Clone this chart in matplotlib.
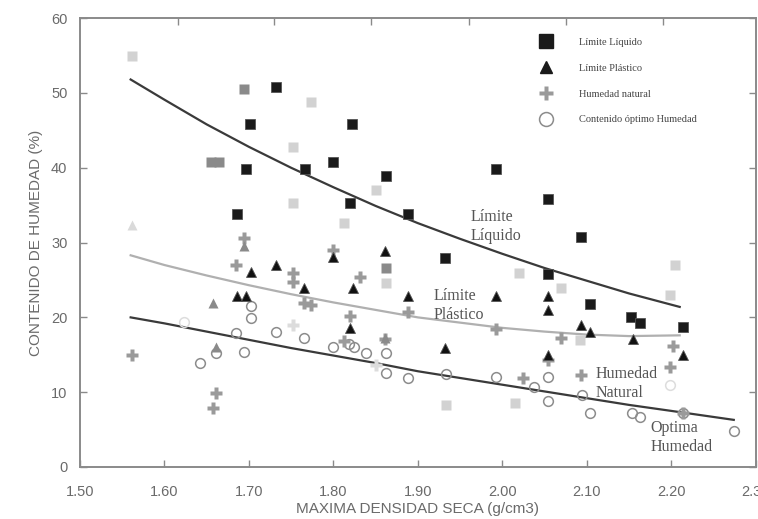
import matplotlib
matplotlib.use('Agg')
import matplotlib.pyplot as plt
from matplotlib.lines import Line2D

# ---- data ----
# Limite liquido (squares)
ll_dark_x = [1.686, 1.696, 1.701, 1.732, 1.766, 1.800, 1.822, 1.820, 1.862, 1.888,
             1.932, 1.993, 2.054, 2.054, 2.093, 2.104, 2.152, 2.163, 2.214]
ll_dark_y = [33.8, 39.8, 45.9, 50.8, 39.8, 40.8, 45.9, 35.3, 38.9, 33.8,
             27.9, 39.8, 35.8, 25.8, 30.7, 21.8, 20.0, 19.3, 18.7]
ll_mid_x = [1.655, 1.665, 1.694, 1.862]
ll_mid_y = [40.8, 40.8, 50.5, 26.6]
ll_light_x = [1.562, 1.752, 1.774, 1.752, 1.851, 1.812, 1.862, 2.020, 2.069, 2.205,
              2.199, 2.092, 1.933, 2.015]
ll_light_y = [54.9, 42.8, 48.8, 35.3, 37.0, 32.6, 24.6, 26.0, 23.9, 27.0,
              23.0, 17.0, 8.3, 8.6]

# Limite plastico (triangles)
lp_dark_x = [1.686, 1.697, 1.702, 1.732, 1.765, 1.800, 1.823, 1.820, 1.861, 1.888,
             1.932, 1.993, 2.054, 2.054, 2.054, 2.093, 2.104, 2.155, 2.214]
lp_dark_y = [22.9, 22.9, 26.1, 27.0, 23.9, 28.1, 23.9, 18.6, 28.9, 22.9,
             15.9, 22.8, 22.9, 21.0, 15.0, 19.0, 18.1, 17.1, 15.0]
lp_mid_x = [1.658, 1.661, 1.861, 1.694]
lp_mid_y = [21.9, 16.0, 17.2, 29.5]
lp_light_x = [1.562]
lp_light_y = [32.4]

# Humedad natural (plus)
hn_x = [1.562, 1.658, 1.661, 1.685, 1.694, 1.752, 1.752, 1.765, 1.773, 1.800,
        1.832, 1.820, 1.813, 1.861, 1.888, 1.993, 2.024, 2.054, 2.069, 2.093,
        2.202, 2.198, 2.214]
hn_y = [15.0, 7.9, 9.9, 27.0, 30.6, 26.0, 24.7, 21.9, 21.7, 29.0,
        25.4, 20.2, 16.8, 17.1, 20.7, 18.4, 11.9, 14.3, 17.3, 12.3,
        16.2, 13.4, 7.2]
hn_light_x = [1.752, 1.851]
hn_light_y = [19.0, 13.6]

# Contenido optimo de humedad (open circles)
oh_x = [1.642, 1.661, 1.685, 1.694, 1.702, 1.702, 1.732, 1.765, 1.800, 1.818,
        1.825, 1.839, 1.862, 1.862, 1.888, 1.933, 1.993, 2.038, 2.054, 2.054,
        2.094, 2.104, 2.153, 2.163, 2.214, 2.274]
oh_y = [13.9, 15.2, 17.9, 15.4, 21.5, 19.9, 18.0, 17.2, 16.0, 16.4,
        16.1, 15.2, 15.2, 12.6, 11.9, 12.4, 12.0, 10.7, 12.0, 8.8,
        9.6, 7.2, 7.2, 6.7, 7.2, 4.8]
oh_light_x = [1.623, 2.199]
oh_light_y = [19.4, 11.0]

# trend lines
ll_fit_x = [1.56, 1.60, 1.65, 1.70, 1.75, 1.80, 1.85, 1.90, 1.95, 2.00, 2.05, 2.10, 2.15, 2.21]
ll_fit_y = [51.8, 49.1, 45.8, 42.8, 40.0, 37.4, 34.9, 32.6, 30.5, 28.5, 26.6, 24.9, 23.2, 21.4]
lp_fit_x = [1.56, 1.60, 1.65, 1.70, 1.75, 1.80, 1.85, 1.90, 1.95, 2.00, 2.05, 2.10, 2.15, 2.21]
lp_fit_y = [28.3, 27.0, 25.6, 24.3, 23.1, 22.0, 21.0, 20.0, 19.3, 18.6, 18.1, 17.7, 17.5, 17.6]
oh_fit_x = [1.56, 1.60, 1.65, 1.70, 1.75, 1.80, 1.85, 1.90, 1.95, 2.00, 2.05, 2.10, 2.15, 2.20, 2.274]
oh_fit_y = [20.0, 19.2, 18.1, 17.0, 15.9, 14.9, 13.9, 12.8, 11.9, 11.0, 10.1, 9.2, 8.3, 7.5, 6.3]

x_ticks = [1.50, 1.60, 1.70, 1.80, 1.90, 2.00, 2.10, 2.20, 2.30]
x_ticklabels = ['1.50', '1.60', '1.70', '1.80', '1.90', '2.00', '2.10', '2.20', '2.30']
y_ticks = [0, 10, 20, 30, 40, 50, 60]
top_ticks = [1.6155, 1.730, 1.845, 1.961, 2.075, 2.190]

legend_labels = ['Límite Líquido', 'Límite Plástico', 'Humedad natural',
                 'Contenido óptimo Humedad']

# ---- drawing ----
sans = 'Liberation Sans'
serif = 'Liberation Serif'
axis_gray = '#8a8a8a'
text_gray = '#6a6a6a'

fig = plt.figure(figsize=(7.58, 5.19), dpi=100)
ax = fig.add_axes([0.1055, 0.1002, 0.8915, 0.8648])

# trend lines
ax.plot(ll_fit_x, ll_fit_y, color='#3a3a3a', lw=1.6, zorder=2)
ax.plot(lp_fit_x, lp_fit_y, color='#b0b0b0', lw=1.6, zorder=2)
ax.plot(oh_fit_x, oh_fit_y, color='#3a3a3a', lw=1.6, zorder=2)

# circles
ax.plot(oh_x, oh_y, 'o', ms=7, mfc='none', mec='#8c8c8c', mew=1.1, zorder=3)
ax.plot(oh_light_x, oh_light_y, 'o', ms=7, mfc='none', mec='#dddddd', mew=1.1, zorder=3)

# plus
ax.plot(hn_x, hn_y, 'P', ms=8.5, color='#9a9a9a', mec='none', zorder=3)
ax.plot(hn_light_x, hn_light_y, 'P', ms=8.5, color='#dcdcdc', mec='none', zorder=3)

# triangles
ax.plot(lp_dark_x, lp_dark_y, '^', ms=6.5, color='#111111', mec='#555555', mew=0.6, zorder=4)
ax.plot(lp_mid_x, lp_mid_y, '^', ms=6.5, color='#8a8a8a', mec='none', zorder=4)
ax.plot(lp_light_x, lp_light_y, '^', ms=6.5, color='#dadada', mec='none', zorder=4)

# squares
ax.plot(ll_dark_x, ll_dark_y, 's', ms=7, color='#1a1a1a', mec='#555555', mew=0.6, zorder=4)
ax.plot(ll_mid_x, ll_mid_y, 's', ms=7, color='#8a8a8a', mec='none', zorder=4)
ax.plot(ll_light_x, ll_light_y, 's', ms=7, color='#d2d2d2', mec='none', zorder=4)

# text on the curves
label_kw = dict(family=serif, fontsize=11.5, color='#555555', va='center', ha='left',
                linespacing=1.25)
ax.text(1.962, 32.2, 'Límite\nLíquido', **label_kw)
ax.text(1.919, 21.6, 'Límite\nPlástico', **label_kw)
ax.text(2.110, 11.1, 'Humedad\nNatural', **label_kw)
ax.text(2.175, 4.0, 'Optima\nHumedad', **label_kw)

# legend
handles = [
    Line2D([], [], ls='none', marker='s', ms=10, color='#1a1a1a'),
    Line2D([], [], ls='none', marker='^', ms=8, color='#1a1a1a'),
    Line2D([], [], ls='none', marker='P', ms=10, color='#9a9a9a', mec='none'),
    Line2D([], [], ls='none', marker='o', ms=10, mfc='none', mec='#8c8c8c', mew=1.1),
]
leg = ax.legend(handles, legend_labels, loc='upper left', bbox_to_anchor=(0.672, 0.968),
                frameon=False, handlelength=1.2, handletextpad=2.6, labelspacing=1.58,
                borderpad=0, prop={'family': serif, 'size': 7.5})
for t in leg.get_texts():
    t.set_color('#444444')

# axes
ax.set_xlim(1.50, 2.30)
ax.set_ylim(0, 60)
ax.set_xticks(x_ticks)
ax.set_xticklabels(x_ticklabels)
ax.set_yticks(y_ticks)
for s in ax.spines.values():
    s.set_color(axis_gray)
    s.set_linewidth(1.4)
ax.tick_params(direction='in', length=5, width=1, color=axis_gray,
               labelcolor=text_gray, labelsize=10.5, right=True)
ax.tick_params(axis='x', pad=13)
ax.tick_params(axis='y', pad=9)
for lab in ax.get_xticklabels() + ax.get_yticklabels():
    lab.set_family(sans)

top = ax.secondary_xaxis('top')
top.set_xticks(top_ticks)
top.set_xticklabels([])
top.tick_params(direction='in', length=5, width=1, color=axis_gray)
top.spines['top'].set_visible(False)

ax.set_xlabel('MAXIMA DENSIDAD SECA (g/cm3)', family=sans, fontsize=11,
              color=text_gray, labelpad=2)
ax.set_ylabel('CONTENIDO DE HUMEDAD (%)', family=sans, fontsize=11,
              color=text_gray, labelpad=6)

fig.savefig('out.png', dpi=100)
